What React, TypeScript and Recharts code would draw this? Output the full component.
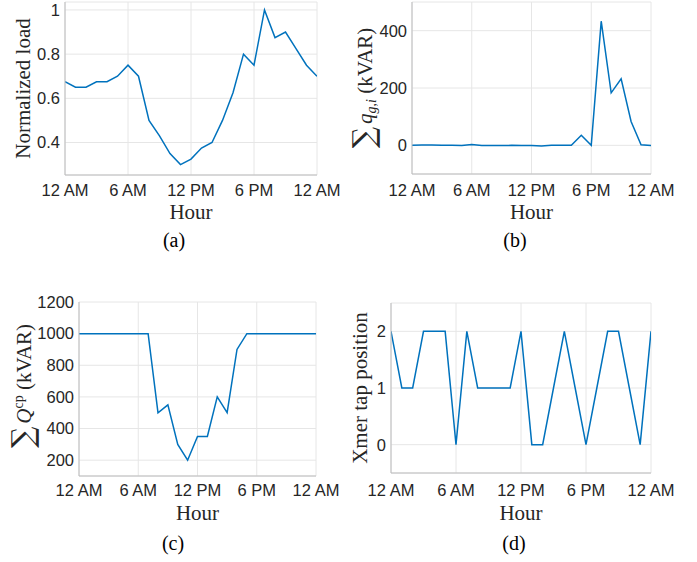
import React from 'react';
import { LineChart, Line, XAxis, YAxis, CartesianGrid } from 'recharts';

const HOURS = [0, 1, 2, 3, 4, 5, 6, 7, 8, 9, 10, 11, 12, 13, 14, 15, 16, 17, 18, 19, 20, 21, 22, 23, 24];
const X_TICKS = [0, 6, 12, 18, 24];
const X_TICK_LABELS = ['12 AM', '6 AM', '12 PM', '6 PM', '12 AM'];

const LOAD = [0.675, 0.65, 0.65, 0.675, 0.675, 0.7, 0.75, 0.7, 0.5, 0.43, 0.35, 0.3, 0.325, 0.375, 0.4, 0.5, 0.625, 0.8, 0.75, 1.0, 0.875, 0.9, 0.825, 0.75, 0.7];
const QG = [0, 1, 1, 0, 0, -1, 3, -1, -1, -1, 0, -1, -1, -2, 0, 0, 0, 35, 0, 433, 183, 232, 83, 2, -1];
const QCP = [1000, 1000, 1000, 1000, 1000, 1000, 1000, 1000, 500, 550, 300, 200, 350, 350, 600, 500, 900, 1000, 1000, 1000, 1000, 1000, 1000, 1000, 1000];
const TAP = [2, 1, 1, 2, 2, 2, 0, 2, 1, 1, 1, 1, 2, 0, 0, 1, 2, 1, 0, 1, 2, 2, 1, 0, 2];

const LOAD_TICKS = [0.4, 0.6, 0.8, 1];
const QG_TICKS = [0, 200, 400];
const QCP_TICKS = [200, 400, 600, 800, 1000, 1200];
const TAP_TICKS = [0, 1, 2];

const LINE = '#0072BD';
const BOX = '#bcbcbd';
const GRID = '#e6e6e6';
const INK = '#262626';
const SANS = '"Liberation Sans", Arial, Helvetica, sans-serif';
const SERIF = '"Liberation Serif", "Times New Roman", serif';

type Cfg = {
  left: number; top: number; width: number; height: number;
  pl: number; pt: number; pr: number; pb: number;
  domain: [number, number];
  yTicks: number[];
  values: number[];
  xTickMargin: number;
  yTitle: React.ReactNode;
  yTitleX: number; yTitleDy: number;
  hourY: number; hourDx: number;
  caption: string; capX: number; capY: number;
};

function Titles({ cfg }: { cfg: Cfg }) {
  const plotCx = (cfg.pl + cfg.pr) / 2;
  const plotCy = (cfg.pt + cfg.pb) / 2 + cfg.yTitleDy;
  return (
    <g>
      <text
        x={cfg.yTitleX}
        y={plotCy}
        transform={`rotate(-90 ${cfg.yTitleX} ${plotCy})`}
        textAnchor="middle"
        fontFamily={SERIF}
        fontSize={21}
        fill={INK}
      >
        {cfg.yTitle}
      </text>
      <text x={plotCx + cfg.hourDx} y={cfg.hourY} textAnchor="middle" fontFamily={SERIF} fontSize={21} fill={INK}>
        Hour
      </text>
      <text x={cfg.capX} y={cfg.capY} textAnchor="middle" fontFamily={SERIF} fontSize={20} fill="#000">
        {cfg.caption}
      </text>
    </g>
  );
}

function Panel({ cfg }: { cfg: Cfg }) {
  const rows = HOURS.map((h, i) => ({ h, v: cfg.values[i] }));
  const tickStyle = { fontFamily: SANS, fontSize: 16.5, fill: INK };
  return (
    <div style={{ position: 'absolute', left: cfg.left, top: cfg.top, width: cfg.width, height: cfg.height }}>
      <LineChart
        width={cfg.width}
        height={cfg.height}
        data={rows}
        margin={{ top: cfg.pt, left: 0, right: cfg.width - cfg.pr, bottom: 0 }}
      >
        <CartesianGrid stroke={GRID} strokeWidth={1} />
        <XAxis
          dataKey="h"
          type="number"
          domain={[0, 24]}
          ticks={X_TICKS}
          interval={0}
          tickFormatter={(v: number) => X_TICK_LABELS[X_TICKS.indexOf(v)]}
          tick={tickStyle}
          tickLine={false}
          tickSize={0}
          tickMargin={cfg.xTickMargin}
          axisLine={{ stroke: BOX }}
          height={cfg.height - cfg.pb}
          allowDataOverflow
        />
        <XAxis
          xAxisId="top"
          orientation="top"
          type="number"
          domain={[0, 24]}
          tick={false}
          tickLine={false}
          height={0}
          axisLine={{ stroke: BOX }}
        />
        <YAxis
          type="number"
          domain={cfg.domain}
          ticks={cfg.yTicks}
          interval={0}
          tick={tickStyle}
          tickLine={false}
          tickSize={0}
          tickMargin={5}
          axisLine={{ stroke: BOX }}
          width={cfg.pl}
          allowDataOverflow
          label={<Titles cfg={cfg} />}
        />
        <YAxis
          yAxisId="right"
          orientation="right"
          type="number"
          domain={cfg.domain}
          tick={false}
          tickLine={false}
          width={0}
          axisLine={{ stroke: BOX }}
        />
        <Line
          type="linear"
          dataKey="v"
          stroke={LINE}
          strokeWidth={1.5}
          dot={false}
          activeDot={false}
          isAnimationActive={false}
        />
      </LineChart>
    </div>
  );
}

const panelA: Cfg = {
  left: 0, top: 0, width: 340, height: 270,
  pl: 65, pt: 2, pr: 317, pb: 175,
  domain: [0.253, 1.036], yTicks: LOAD_TICKS, values: LOAD, xTickMargin: 9.5,
  yTitle: 'Normalized load', yTitleX: 29.5, yTitleDy: 0,
  hourY: 218.7, hourDx: 0,
  caption: '(a)', capX: 174, capY: 247,
};

const panelB: Cfg = {
  left: 340, top: 0, width: 357, height: 270,
  pl: 72, pt: 2, pr: 311, pb: 174,
  domain: [-100, 500], yTicks: QG_TICKS, values: QG, xTickMargin: 10,
  yTitle: (
    <>
      <tspan fontFamily="DejaVu Serif" fontSize={30} dy={2}>∑</tspan>
      <tspan dx={3} dy={-2} fontStyle="italic">q</tspan>
      <tspan fontSize={14} dy={4} fontStyle="italic">g,i</tspan>
      <tspan dy={-4}>{' (kVAR)'}</tspan>
    </>
  ),
  yTitleX: 32, yTitleDy: 0,
  hourY: 218.7, hourDx: 0,
  caption: '(b)', capX: 175, capY: 247,
};

const panelC: Cfg = {
  left: 0, top: 280, width: 340, height: 282,
  pl: 79, pt: 22, pr: 316, pb: 196,
  domain: [100, 1200], yTicks: QCP_TICKS, values: QCP, xTickMargin: 8.5,
  yTitle: (
    <>
      <tspan fontFamily="DejaVu Serif" fontSize={30} dy={2}>∑</tspan>
      <tspan dx={3} dy={-2} fontStyle="italic">Q</tspan>
      <tspan fontSize={14} dy={-8}>cp</tspan>
      <tspan dy={8}>{' (kVAR)'}</tspan>
    </>
  ),
  yTitleX: 30.5, yTitleDy: -3,
  hourY: 240, hourDx: 0,
  caption: '(c)', capX: 173, capY: 269.7,
};

const panelD: Cfg = {
  left: 340, top: 280, width: 357, height: 282,
  pl: 51, pt: 23, pr: 311, pb: 193,
  domain: [-0.5, 2.5], yTicks: TAP_TICKS, values: TAP, xTickMargin: 11,
  yTitle: 'Xmer tap position', yTitleX: 26.5, yTitleDy: 0,
  hourY: 239.5, hourDx: 0,
  caption: '(d)', capX: 174, capY: 269.7,
};

export default function App() {
  return (
    <div style={{ position: 'absolute', left: 0, top: 0, width: 697, height: 562, background: '#fff' }}>
      <Panel cfg={panelA} />
      <Panel cfg={panelB} />
      <Panel cfg={panelC} />
      <Panel cfg={panelD} />
    </div>
  );
}
